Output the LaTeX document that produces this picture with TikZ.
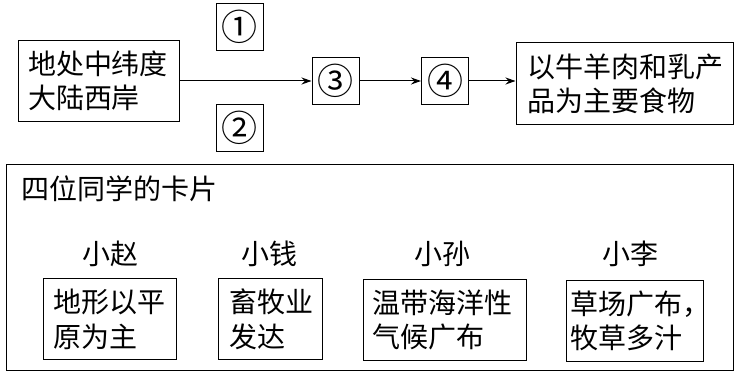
\documentclass[tikz,border=0pt]{standalone}
\usepackage{fontspec}
\setmainfont{Noto Sans CJK SC}
\usetikzlibrary{arrows.meta}
\begin{document}
\begin{tikzpicture}[x=1pt,y=-1pt,
  txt/.style={font=\fontsize{28}{34.5}\selectfont},
  box/.style={txt, draw, line width=1pt, align=left, inner ysep=0pt},
  numbox/.style={draw, line width=1pt, minimum width=47pt, minimum height=47pt, inner sep=0pt, font=\fontsize{36}{36}\selectfont},
  lbl/.style={txt, inner sep=0pt},
  arr/.style={line width=1pt, -{Stealth[length=10pt,width=7pt]}}]
\useasboundingbox (0,0) rectangle (740,374);
% top row
\node[box, minimum width=161pt, minimum height=81pt, inner xsep=10pt, text width=141pt] (A) at (98.5,81) {地处中纬度\\大陆西岸};
\node[numbox] (n1) at (239.5,27) {①};
\node[numbox] (n2) at (239.5,128) {②};
\node[numbox] (n3) at (335.5,81) {③};
\node[numbox] (n4) at (445,81) {④};
\node[box, minimum width=217pt, minimum height=82pt, inner xsep=11pt, text width=195pt] (B) at (624.5,84) {以牛羊肉和乳产\\品为主要食物};
\draw[arr] (A.east) -- (n3.west);
\draw[arr] (n3.east) -- (n4.west);
\draw[arr] (n4.east) -- (n4.east -| B.west);
% bottom panel
\node[draw, line width=1pt, minimum width=727pt, minimum height=206pt, inner sep=0pt] (panel) at (369.5,268) {};
\node[lbl, anchor=west] (title) at (21,189) {四位同学的卡片};
\node[lbl] (l1) at (110,254) {小赵};
\node[lbl] (l2) at (269,254) {小钱};
\node[lbl] (l3) at (442,254) {小孙};
\node[lbl] (l4) at (630,254) {小李};
\node[box, minimum width=133pt, minimum height=81pt, inner xsep=10pt, text width=113pt] (c1) at (109.5,319.5) {地形以平\\原为主};
\node[box, minimum width=104pt, minimum height=81pt, inner xsep=11pt, text width=82pt] (c2) at (270,319.5) {畜牧业\\发达};
\node[box, minimum width=163pt, minimum height=81pt, inner xsep=9pt, text width=145pt] (c3) at (444.5,320) {温带海洋性\\气候广布};
\node[box, minimum width=137pt, minimum height=81pt, inner xsep=4pt, text width=129pt] (c4) at (634.5,321) {草场广布，\\牧草多汁};
\end{tikzpicture}
\end{document}
